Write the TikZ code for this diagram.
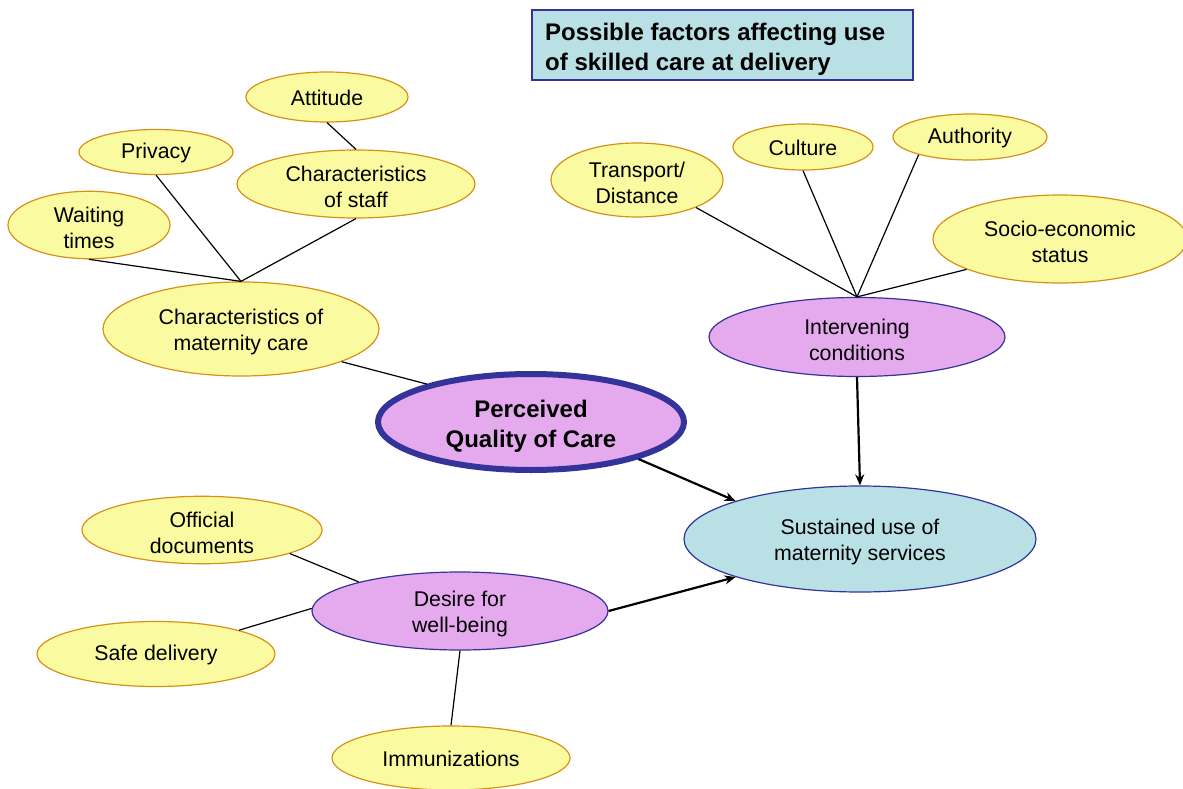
\documentclass[tikz,border=0pt]{standalone}
\usepackage{fontspec}
\setmainfont{Liberation Sans}
\usetikzlibrary{shapes.geometric,arrows.meta}
\definecolor{yfill}{RGB}{250,250,160}
\definecolor{yline}{RGB}{214,146,20}
\definecolor{pfill}{RGB}{229,170,238}
\definecolor{cfill}{RGB}{185,224,228}
\definecolor{bline}{RGB}{51,51,153}
\newcommand{\tpa}{\rule{0pt}{17.5pt}}
\newcommand{\tpb}{\rule{0pt}{21.5pt}}
\newcommand{\tpc}{\rule{0pt}{25.5pt}}
\tikzset{
  lbl/.style={font=\fontsize{21.3}{26}\selectfont, align=center, text=black},
  yell/.style={ellipse, lbl, draw=yline, fill=yfill, line width=1.2pt, inner sep=0pt},
  purp/.style={ellipse, lbl, draw=bline, fill=pfill, line width=1.2pt, inner sep=0pt},
  cyan/.style={ellipse, lbl, draw=bline, fill=cfill, line width=1.2pt, inner sep=0pt},
  conn/.style={draw=black, line width=1.2pt},
  arr/.style={draw=black, line width=2.2pt, -{Stealth[length=11pt,width=9pt]}},
}
\begin{document}
\begin{tikzpicture}[x=1pt,y=-1pt]
\useasboundingbox (0,0) rectangle (1183,789);
% title
\node[draw=bline, fill=cfill, line width=1.3pt, minimum width=381pt, minimum height=70pt, inner sep=0pt] (title) at (722.5,45) {};
\node[anchor=west, align=left, font=\fontsize{24}{30}\selectfont\bfseries, inner sep=0pt] (titletext) at (545,49) {Possible factors affecting use\\of skilled care at delivery};
% nodes
\node[yell, minimum width=162pt, minimum height=50pt] (att) at (327,97) {\tpa Attitude};
\node[yell, minimum width=154pt, minimum height=45pt] (priv) at (156,152) {\tpa Privacy};
\node[yell, minimum width=238pt, minimum height=68pt] (staff) at (356,184) {\tpb Characteristics\\of staff};
\node[yell, minimum width=162pt, minimum height=57pt] (wait) at (89,225) {\tpb Waiting\\times};
\node[yell, minimum width=276pt, minimum height=94pt] (cmc) at (241,329) {\tpb Characteristics of\\maternity care};
\node[ellipse, draw=bline, fill=pfill, line width=6pt, inner sep=0pt, minimum width=306pt, minimum height=96pt, align=center, font=\fontsize{24}{30}\selectfont\bfseries] (pqc) at (531,422) {\tpc Perceived\\Quality of Care};
\node[yell, minimum width=172pt, minimum height=74pt] (trans) at (637,180) {\tpb Transport/\\Distance};
\node[yell, minimum width=140pt, minimum height=46pt] (cult) at (803,147) {\tpa Culture};
\node[yell, minimum width=154pt, minimum height=46pt] (auth) at (970,137) {\tpa Authority};
\node[yell, minimum width=254pt, minimum height=88pt] (socio) at (1060,239) {\tpb Socio-economic\\status};
\node[purp, minimum width=296pt, minimum height=79pt] (ic) at (857,337) {\tpb Intervening\\conditions};
\node[cyan, minimum width=352pt, minimum height=106pt] (sus) at (860,539) {\tpb Sustained use of\\maternity services};
\node[yell, minimum width=240pt, minimum height=64pt] (off) at (202,530) {\tpb Official\\documents};
\node[purp, minimum width=296pt, minimum height=78pt] (des) at (460,611) {\tpb Desire for\\well-being};
\node[yell, minimum width=238pt, minimum height=65pt] (safe) at (156,654) {\tpa Safe delivery};
\node[yell, minimum width=238pt, minimum height=64pt] (imm) at (451,758) {\tpa Immunizations};
% connectors
\draw[conn] (att.south) -- (staff.north);
\draw[conn] (priv.south) -- (cmc.north);
\draw[conn] (wait.south) -- (cmc.north);
\draw[conn] (staff.south) -- (cmc.north);
\draw[conn] (cmc.-18.4) -- (pqc.160.3);
\draw[conn] (trans.-25) -- (ic.north);
\draw[conn] (cult.south) -- (ic.north);
\draw[conn] (auth.-161.2) -- (ic.north);
\draw[conn] (socio.-162) -- (ic.north);
\draw[conn] (off.-15) -- (des.164.6);
\draw[conn] (safe.16) -- (des.179);
\draw[conn] (des.south) -- (imm.north);
\draw[arr] (pqc.-19.2) -- (sus.163.7);
\draw[arr] (ic.south) -- (sus.north);
\draw[arr] (des.east) -- (sus.-163.7);
\end{tikzpicture}
\end{document}
